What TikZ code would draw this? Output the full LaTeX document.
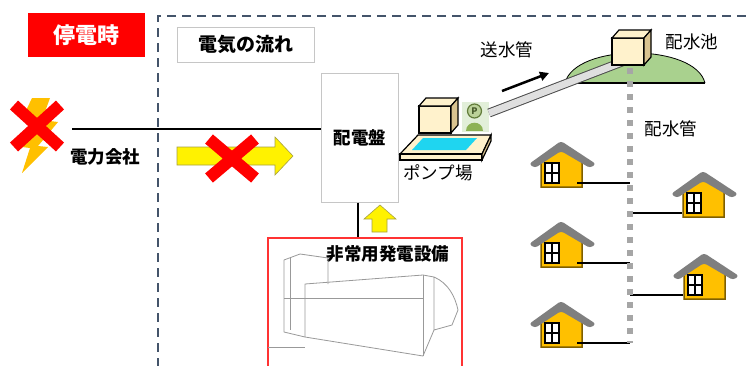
\documentclass[tikz,border=0pt]{standalone}
\usepackage{fontspec}
\setmainfont{Noto Sans CJK JP}
\usetikzlibrary{arrows.meta}

\definecolor{frameblue}{HTML}{44546A}
\definecolor{alarm}{HTML}{FF0000}
\definecolor{wallyellow}{HTML}{FFC000}
\definecolor{wallbrown}{HTML}{7F5F00}
\definecolor{roofgray}{HTML}{7F7F7F}
\definecolor{cream}{HTML}{FFF2CC}
\definecolor{crateside}{HTML}{D9C38F}
\definecolor{hillgreen}{HTML}{A9D18E}
\definecolor{pool}{HTML}{1FD5F0}
\definecolor{iconbg}{HTML}{E2EFD9}
\definecolor{icongreen}{HTML}{8DB255}
\definecolor{pipegray}{HTML}{A6A6A6}

\tikzset{
  house/.pic={
    \fill[wallyellow, draw=wallbrown, line width=1.5pt]
      (-21,22) -- (-21,-6) -- (-1,-17) -- (20,-6) -- (20,22) -- cycle;
    \fill[roofgray, rounded corners=3pt]
      (-33,-1) -- (-1,-24) -- (34,-1) -- (28,3) -- (-1,-14) -- (-27,3) -- cycle;
    \draw[fill=white, line width=2pt] (-17,-2) rectangle (-3,18);
    \draw[line width=1.8pt] (-10,-2) -- (-10,18) (-17,8) -- (-3,8);
    \coordinate (-e) at (15,18);
    \coordinate (-w) at (-22,18);
  },
  crate/.pic={
    \draw[fill=cream, line width=1.2pt] (0,0) rectangle (32,-27);
    \draw[fill=cream, line width=1.2pt] (0,-27) -- (7,-35) -- (39,-35) -- (32,-27) -- cycle;
    \draw[fill=crateside, line width=1.2pt] (32,0) -- (39,-8) -- (39,-35) -- (32,-27) -- cycle;
  }
}

\begin{document}
\begin{tikzpicture}[x=1pt, y=-1pt,
  txt/.style = {inner sep=0, font=\fontsize{17.5}{19}\selectfont},
  btxt/.style = {txt, font=\fontsize{17.5}{19}\selectfont\bfseries},
  banner/.style = {fill=alarm, text=white, minimum width=117pt, minimum height=44pt,
    font=\fontsize{22}{24}\selectfont\bfseries},
  titlebox/.style = {draw=gray!45, minimum width=137pt, minimum height=35pt,
    font=\fontsize{19}{21}\selectfont\bfseries},
  panel/.style = {draw=gray!45, line width=1pt, minimum width=77pt, minimum height=129pt,
    font=\fontsize{17.5}{19}\selectfont\bfseries},
  genbox/.style = {draw=alarm!80, line width=1.2pt, minimum width=194pt, minimum height=132pt},
  cross/.style = {alarm, line width=12pt},
  power/.style = {fill=yellow, draw=yellow!60!black, line width=0.6pt},
  service/.style = {line width=2.5pt},
  mainpipe/.style = {pipegray, line width=6pt, dash pattern=on 6pt off 7pt}]

  \useasboundingbox (0,0) rectangle (746,365);
  \fill[white] (0,0) rectangle (746,365);

  % outer frame
  \draw[frameblue, line width=2pt, dash pattern=on 9pt off 6pt]
    (746,16) -- (158,16) -- (158,370);

  \node[banner] (mode) at (86,35) {停電時};
  \node[titlebox] (flow) at (246,44.5) {電気の流れ};

  % power company, cut off
  \fill[wallyellow] (32,98) -- (50,98) -- (42,120) -- (58,122) -- (38,146) -- (48,147)
    -- (22,173) -- (30,148) -- (22,147) -- (30,121) -- (22,119) -- cycle;
  \draw[cross] (14,105) -- (60,147) (60,105) -- (14,147);
  \node[btxt] (company) at (105,157) {電力会社};
  \coordinate (grid) at (72,129);

  \node[panel] (board) at (360,137.5) {配電盤};
  \draw[line width=2pt] (grid) -- (grid -| board.west);

  % blocked supply
  \draw[power] (177,147) -- (275,147) -- (275,137) -- (293,156) -- (275,175)
    -- (275,165) -- (177,165) -- cycle;
  \draw[cross] (209,139) -- (255,178) (255,139) -- (209,178);

  % emergency generator
  \node[genbox] (gen) at (365,304) {};
  \node[btxt] (genlabel) at (388,254) {非常用発電設備};
  \draw[line width=1.5pt] (board.south -| 358,0) -- (gen.north -| 358,0);
  \draw[power] (372,232) -- (372,219) -- (364,219) -- (380,205) -- (396,219)
    -- (387,219) -- (387,232) -- cycle;
  \begin{scope}[gray!80, line width=0.8pt, line join=round]
    \draw (284,332) -- (284,260) -- (300,254) -- (328,258) -- (328,284);
    \draw (290,258) -- (290,330);
    \draw (284,298) -- (423,298);
    \draw (305,337) -- (305,284) -- (423,275) -- (434,277)
      .. controls (448,283) and (455,296) .. (458,310) -- (452,325) -- (434,330) -- (434,277);
    \draw (423,275) -- (423,356);
    \draw (284,332) -- (305,337) -- (423,356) -- (434,330);
    \draw (268,347) -- (305,347);
  \end{scope}

  % pump station
  \draw[fill=cream, line width=1.2pt] (400,154) -- (418,135) -- (491,135) -- (482,154) -- cycle;
  \draw[fill=cream, line width=1.2pt] (400,154) rectangle (482,160);
  \draw[fill=crateside, line width=1.2pt] (482,154) -- (491,135) -- (491,141) -- (482,160) -- cycle;
  \fill[pool] (412,150) -- (423,138) -- (477,138) -- (466,150) -- cycle;
  \pic at (419,133) {crate};
  \fill[iconbg] (462,102) rectangle (489,132);
  \fill[icongreen] (466,131) .. controls (466,120) and (483,120) .. (483,131) -- cycle;
  \draw[icongreen!70!black, fill=icongreen!60, line width=1.2pt] (474.5,111) circle (7);
  \node[text=icongreen!50!black, inner sep=0, font=\fontsize{9}{9}\selectfont\bfseries] (pmark) at (474.5,111) {P};
  \node[txt] (pump) at (438,173) {ポンプ場};

  % reservoir and transmission main
  \draw[fill=hillgreen, line width=0.8pt] (565,83) .. controls (575,43) and (695,43) .. (705,83);
  \draw[line width=2pt] (565,83) -- (705,83);
  \coordinate (pumpout) at (489,113);
  \coordinate (tankin) at (622,62);
  \draw[black!70, line width=9pt] (pumpout) -- (tankin);
  \draw[gray!25, line width=7pt] (pumpout) -- (tankin);
  \pic at (612,65) {crate};
  \node[txt] (tank) at (692,42) {配水池};
  \coordinate (sendA) at (502,91);
  \coordinate (sendB) at (549,73);
  \draw[-{Triangle[length=9pt,width=9pt]}, line width=2.5pt] (sendA) -- (sendB);
  \node[txt] (sendlabel) at (507,50) {送水管};

  % distribution main and houses
  \coordinate (mtop) at (630,68);
  \coordinate (mbot) at (630,343);
  \node[txt] (mainlabel) at (671,129) {配水管};
  \pic (h1) at (562,165) {house};
  \pic (h2) at (562,245) {house};
  \pic (h3) at (562,325) {house};
  \pic (h4) at (704,195) {house};
  \pic (h5) at (705,277) {house};
  \foreach \h in {h1,h2,h3}
    \draw[service] (\h-e) -- (\h-e -| mtop);
  \foreach \h in {h4,h5}
    \draw[service] (\h-w) -- (\h-w -| mtop);
  \draw[mainpipe] (mtop) -- (mbot);
\end{tikzpicture}
\end{document}
